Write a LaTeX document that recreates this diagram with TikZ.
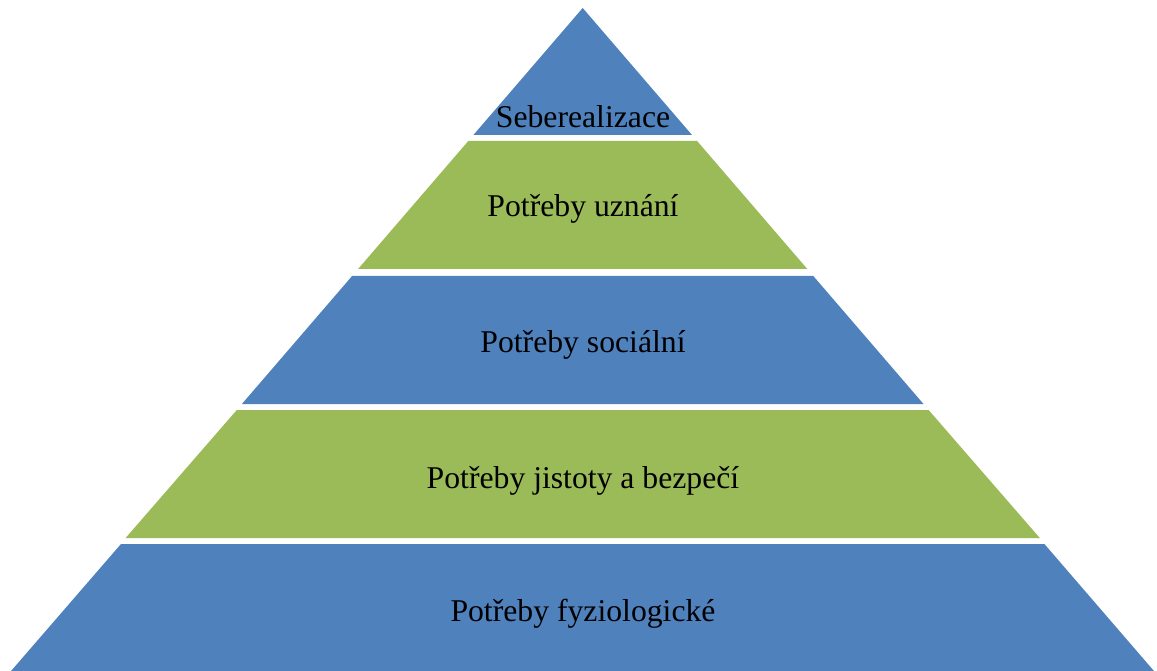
\documentclass[tikz,border=0pt]{standalone}
\usepackage{fontspec}
\setmainfont{Liberation Serif}
\definecolor{pblue}{HTML}{4F81BD}
\definecolor{pgreen}{HTML}{9BBB59}
\tikzset{
  layerblue/.style={fill=pblue, draw=none},
  layergreen/.style={fill=pgreen, draw=none},
  lbl/.style={anchor=base, inner sep=0pt, text=black, font=\fontsize{31.7}{38}\selectfont}
}
\begin{document}
\begin{tikzpicture}[x=1pt,y=-1pt]
\useasboundingbox (0,0) rectangle (1157,671);
\begin{scope}
\clip (0,0) rectangle (1157,671);
% layer 1 (top triangle)
\fill[layerblue] (582.7,8) -- (692.0,135) -- (473.4,135) -- cycle;
% layer 2
\fill[layergreen] (468.3,141) -- (697.1,141) -- (807.3,269) -- (358.1,269) -- cycle;
% layer 3
\fill[layerblue] (352.1,276) -- (813.3,276) -- (923.5,404) -- (241.9,404) -- cycle;
% layer 4
\fill[layergreen] (236.8,410) -- (928.6,410) -- (1039.8,538) -- (125.6,538) -- cycle;
% layer 5
\fill[layerblue] (121.0,544) -- (1044.4,544) -- (1160,678) -- (5,678) -- cycle;
\end{scope}
\node[lbl] (l1) at (583,128) {Seberealizace};
\node[lbl] (l2) at (583,217) {Potřeby uznání};
\node[lbl] (l3) at (583,352) {Potřeby sociální};
\node[lbl] (l4) at (583,488) {Potřeby jistoty a bezpečí};
\node[lbl] (l5) at (583,621) {Potřeby fyziologické};
\end{tikzpicture}
\end{document}
